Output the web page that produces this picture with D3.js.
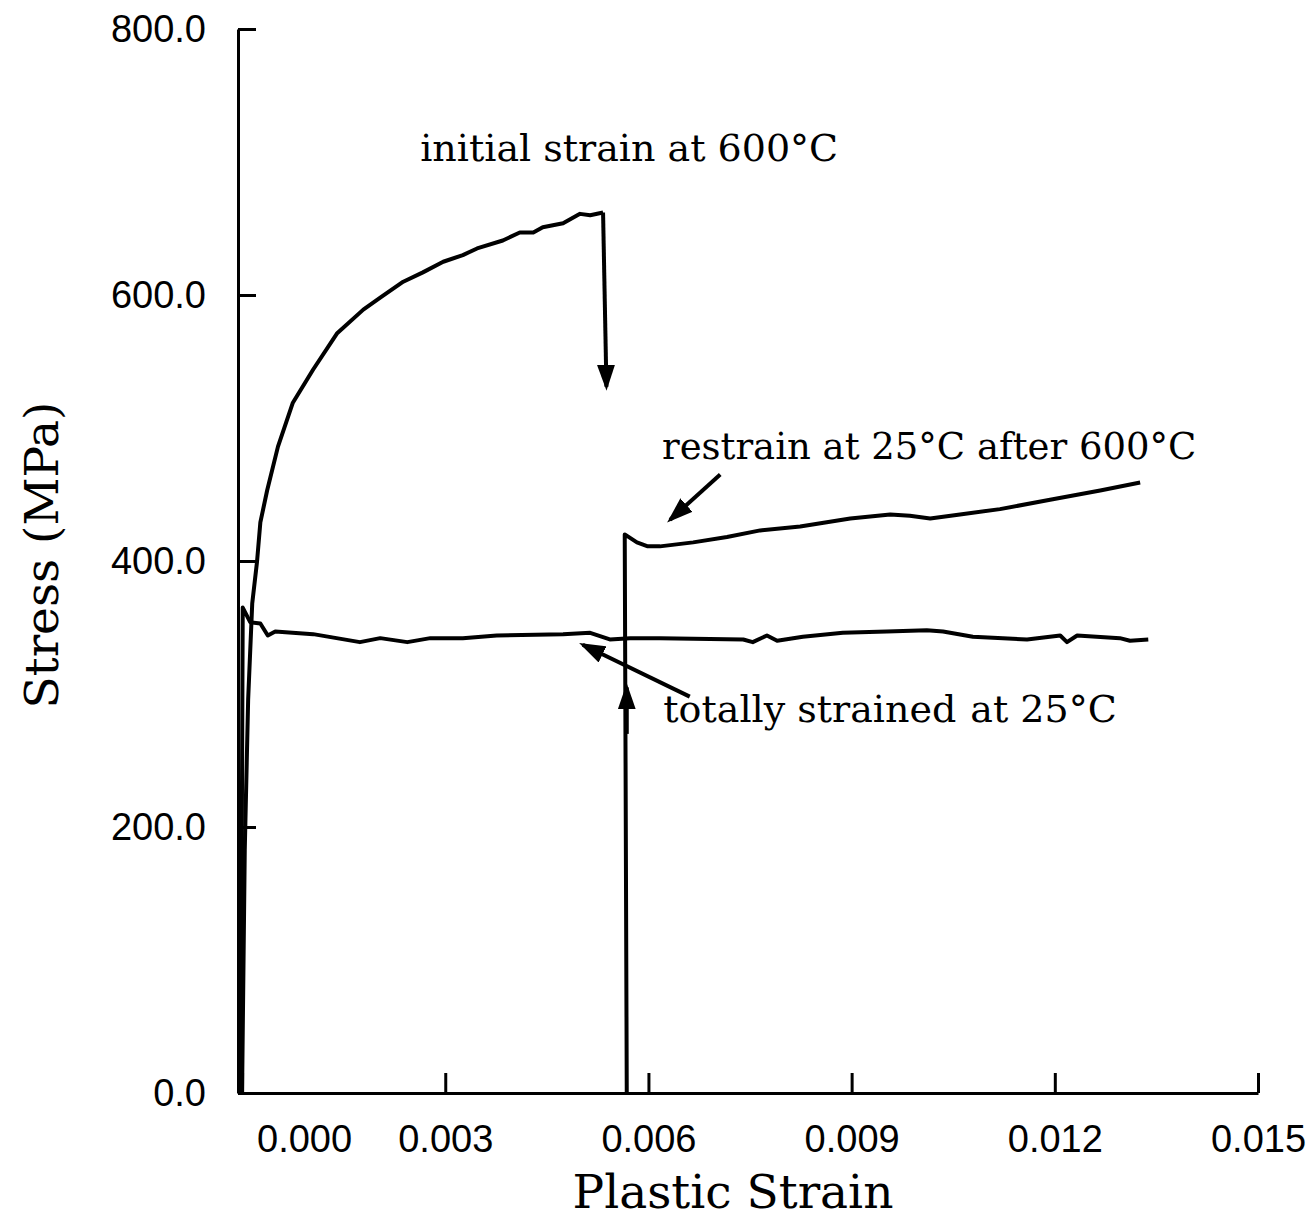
<!DOCTYPE html>
<html>
<head>
<meta charset="utf-8">
<script src="https://cdn.jsdelivr.net/npm/d3@7"></script>
<style>
  body { margin: 0; background: #fff; }
  .tick text { font-family: "Liberation Sans", Arial, sans-serif; font-size: 38px; fill: #000; }
  .tick line, .domain { stroke: #000; stroke-width: 3px; }
  .note { font-family: "DejaVu Serif", serif; font-size: 38px; fill: #000; }
</style>
</head>
<body>
<script>
// first loading at 600C
let initStrain = [0.0, 0.00004, 0.00009, 0.00015, 0.00022, 0.00027, 0.00037, 0.00053, 0.00075, 0.00105,
                  0.00140, 0.00179, 0.00204, 0.00238, 0.00267, 0.00297, 0.00326, 0.00347, 0.00385, 0.00410,
                  0.00430, 0.00444, 0.00474, 0.00499, 0.00514, 0.00533];
let initStress = [0, 183, 296, 368, 399, 429, 453, 486, 519, 544,
                  571, 589, 598, 610, 617, 625, 630, 635, 641, 647,
                  647, 651, 654, 661, 660, 662];

// whole test at 25C
let totalStrain = [-0.00002, 0.00001, 0.00012, 0.00027, 0.00038, 0.00049, 0.00105, 0.00174, 0.00204, 0.00244,
                   0.00278, 0.00326, 0.00376, 0.00474, 0.00514, 0.00543, 0.00573, 0.00617, 0.00740, 0.00754,
                   0.00775, 0.00790, 0.00828, 0.00887, 0.00952, 0.01011, 0.01035, 0.01079, 0.01159, 0.01208,
                   0.01218, 0.01233, 0.01296, 0.01311, 0.01338];
let totalStress = [0, 365, 354, 353, 344, 347, 345, 339, 342, 339,
                   342, 342, 344, 345, 346, 341, 342, 342, 341, 339,
                   344, 340, 343, 346, 347, 348, 347, 343, 341, 344,
                   339, 344, 342, 340, 341];

// reloading at 25C after 600C
let restrainStrain = [0.00568, 0.00565, 0.00583, 0.00599, 0.00617, 0.00666, 0.00716, 0.00765, 0.00824, 0.00898,
                      0.00957, 0.00986, 0.01016, 0.01060, 0.01119, 0.01193, 0.01267, 0.01326];
let restrainStress = [0, 420, 414, 411, 411, 414, 418, 423, 426, 432,
                      435, 434, 432, 435, 439, 446, 453, 459];

let xTicks = [0, 0.003, 0.006, 0.009, 0.012, 0.015];
let yTicks = [0, 200, 400, 600, 800];

// arrows, in data units: from (x1,y1) to tip (x2,y2)
let arrows = [
    { x1: 0.00533, y1: 662, x2: 0.00538, y2: 531 },
    { x1: 0.00568, y1: 270, x2: 0.00568, y2: 305 },
    { x1: 0.00661, y1: 298, x2: 0.00503, y2: 337 },
    { x1: 0.00706, y1: 465, x2: 0.00632, y2: 431 }
];

let width = 1314, height = 1218;

let svg = d3.select("body").append("svg")
    .attr("width", width)
    .attr("height", height)
    .style("background", "#fff");

let x = d3.scaleLinear().domain([-0.00006, 0.015]).range([238, 1258]);
let y = d3.scaleLinear().domain([0, 800]).range([1093, 29]);

// arrow head
svg.append("defs").append("marker")
    .attr("id", "head")
    .attr("markerUnits", "userSpaceOnUse")
    .attr("viewBox", "0 0 26 18")
    .attr("markerWidth", 26)
    .attr("markerHeight", 18)
    .attr("refX", 22)
    .attr("refY", 9)
    .attr("orient", "auto")
    .append("path")
    .attr("d", "M0,0 L26,9 L0,18 Z")
    .attr("fill", "#000");

// axes
let xAxis = d3.axisBottom(x)
    .tickValues(xTicks)
    .tickFormat(d3.format(".3f"))
    .tickSize(-20)
    .tickSizeOuter(0)
    .tickPadding(32);

let yAxis = d3.axisLeft(y)
    .tickValues(yTicks)
    .tickFormat(d3.format(".1f"))
    .tickSize(-18)
    .tickSizeOuter(0)
    .tickPadding(32);

let gx = svg.append("g").attr("transform", "translate(0,1093)").call(xAxis);
let gy = svg.append("g").attr("transform", "translate(238,0)").call(yAxis);

// the 0.000 label sits clear of the y axis
gx.selectAll(".tick text").filter(d => d === 0).attr("x", 62);

// axis titles
svg.append("text")
    .attr("x", 733)
    .attr("y", 1208)
    .attr("text-anchor", "middle")
    .style("font-family", "DejaVu Serif, serif")
    .style("font-size", "47px")
    .text("Plastic Strain");

svg.append("text")
    .attr("transform", "translate(58,555) rotate(-90)")
    .attr("text-anchor", "middle")
    .style("font-family", "DejaVu Serif, serif")
    .style("font-size", "47px")
    .text("Stress (MPa)");

// curves
let line = d3.line()
    .x(d => x(d[0]))
    .y(d => y(d[1]));

let series = [
    d3.zip(initStrain, initStress),
    d3.zip(totalStrain, totalStress),
    d3.zip(restrainStrain, restrainStress)
];

svg.selectAll(".curve")
    .data(series)
    .enter().append("path")
    .attr("class", "curve")
    .attr("d", line)
    .attr("fill", "none")
    .attr("stroke", "#000")
    .attr("stroke-width", 4)
    .attr("stroke-linejoin", "round");

svg.selectAll(".arrow")
    .data(arrows)
    .enter().append("line")
    .attr("class", "arrow")
    .attr("x1", d => x(d.x1))
    .attr("y1", d => y(d.y1))
    .attr("x2", d => x(d.x2))
    .attr("y2", d => y(d.y2))
    .attr("stroke", "#000")
    .attr("stroke-width", 4)
    .attr("marker-end", "url(#head)");

// notes
svg.append("text").attr("class", "note")
    .attr("x", x(0.00263)).attr("y", y(701))
    .text("initial strain at 600°C");

svg.append("text").attr("class", "note")
    .attr("x", x(0.00620)).attr("y", y(477))
    .style("font-size", "37px")
    .text("restrain at 25°C after 600°C");

let t3 = svg.append("text").attr("class", "note")
    .attr("x", x(0.00622)).attr("y", y(279));
t3.append("tspan").text("totally strained");
t3.append("tspan").attr("dx", 14).text("at 25°C");
</script>
</body>
</html>
